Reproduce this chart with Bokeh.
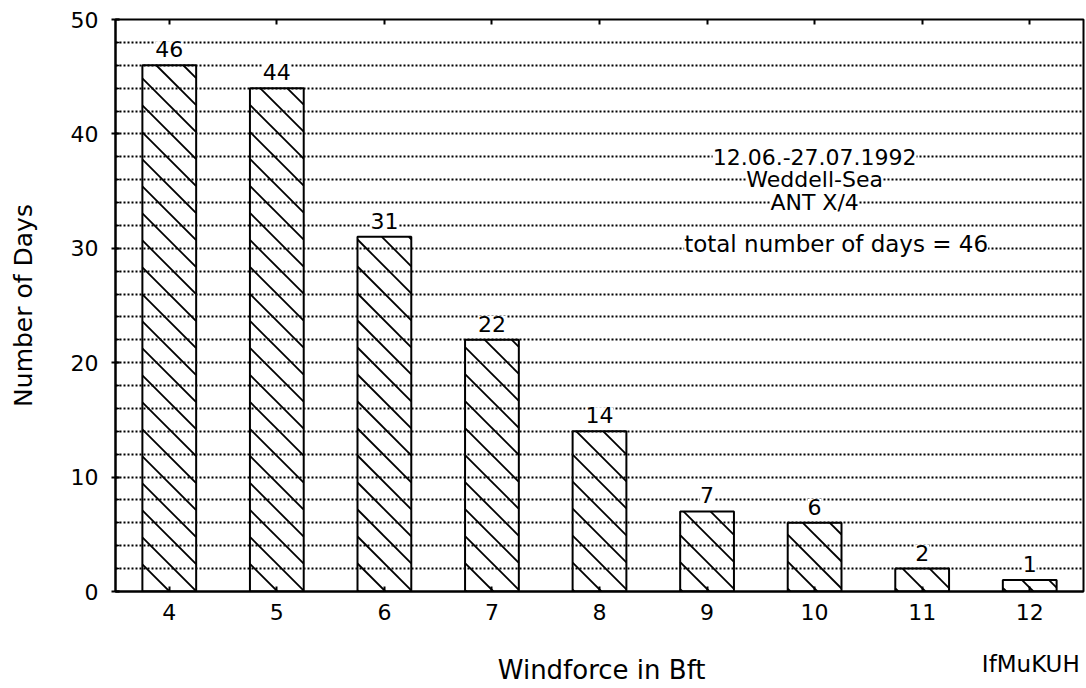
from bokeh.plotting import figure
from bokeh.models import (ColumnDataSource, LabelSet, Label, SingleIntervalTicker,
                          FixedTicker, Range1d, LinearAxis)
from bokeh.core.properties import value
from bokeh.embed import file_html
from bokeh.resources import INLINE

# ---- data ----
windforce = [4, 5, 6, 7, 8, 9, 10, 11, 12]
days = [46, 44, 31, 22, 14, 7, 6, 2, 1]
info_lines = ["12.06.-27.07.1992", "Weddell-Sea", "ANT X/4"]
total_text = "total number of days = 46"
x_title = "Windforce in Bft"
y_title = "Number of Days"
credit = "IfMuKUH"

FONT = "DejaVu Sans"

# ---- layout ----
W, H = 1086, 688
B_LEFT, B_RIGHT, B_TOP, B_BOTTOM = 115, 3, 19, 97
X_RANGE = (3.5, 12.5)
Y_RANGE = (0, 50)
BAR_W = 0.5
HATCH_GAP = 27  # vertical pixel distance between hatch lines

kx = (W - B_LEFT - B_RIGHT) / (X_RANGE[1] - X_RANGE[0])  # px per x unit
ky = (H - B_TOP - B_BOTTOM) / (Y_RANGE[1] - Y_RANGE[0])  # px per y unit


def hatch_segments(xs, tops):
    """45-degree '\\' hatch lines clipped to each bar, computed from the bar data."""
    x0, y0, x1, y1 = [], [], [], []
    for x, t in zip(xs, tops):
        uL = (x - BAR_W / 2 - X_RANGE[0]) * kx
        uR = (x + BAR_W / 2 - X_RANGE[0]) * kx
        vT = t * ky
        n = int(uL // HATCH_GAP)
        while True:
            c = n * HATCH_GAP          # line: v = c - u
            n += 1
            if c <= uL:
                continue
            if c >= uR + vT:
                break
            ua = max(uL, c - vT)
            ub = min(uR, c)
            if ub - ua < 0.5:
                continue
            x0.append(ua / kx + X_RANGE[0]); y0.append((c - ua) / ky)
            x1.append(ub / kx + X_RANGE[0]); y1.append((c - ub) / ky)
    return dict(x0=x0, y0=y0, x1=x1, y1=y1)


src = ColumnDataSource(dict(
    x=windforce,
    top=days,
    label_y=[d + 1.4 for d in days],
    text=[str(d) for d in days],
))
hatch_src = ColumnDataSource(hatch_segments(windforce, days))

p = figure(width=W, height=H, x_range=Range1d(*X_RANGE), y_range=Range1d(*Y_RANGE),
           output_backend="svg", toolbar_location=None,
           min_border_left=B_LEFT, min_border_right=B_RIGHT,
           min_border_top=B_TOP, min_border_bottom=B_BOTTOM)
p.background_fill_color = "white"
p.border_fill_color = "white"
p.outline_line_color = "black"
p.outline_line_width = 2

# grid: dotted lines every 2 days
p.xgrid.visible = False
p.ygrid.ticker = SingleIntervalTicker(interval=2)
p.ygrid.grid_line_color = "black"
p.ygrid.grid_line_dash = "2 2"
p.ygrid.grid_line_width = 1.8

# bars + hatching
p.segment(x0="x0", y0="y0", x1="x1", y1="y1", source=hatch_src,
          line_color="black", line_width=1.8)
p.vbar(x="x", top="top", width=BAR_W, source=src, fill_color=None,
       line_color="black", line_width=2)

# axes
p.yaxis.ticker = SingleIntervalTicker(interval=10, num_minor_ticks=5)
p.xaxis.ticker = FixedTicker(ticks=windforce)
for ax in (p.xaxis[0], p.yaxis[0]):
    ax.axis_line_color = "black"
    ax.axis_line_width = 2
    ax.major_tick_line_color = "black"
    ax.major_tick_line_width = 2
    ax.minor_tick_line_color = "black"
    ax.minor_tick_line_width = 1.5
    ax.major_label_text_font = FONT
    ax.major_label_text_font_size = "22px"
    ax.major_label_text_color = "black"
    ax.axis_label_text_font = FONT
    ax.axis_label_text_font_style = "normal"
    ax.axis_label_text_color = "black"
p.yaxis.major_tick_in = 4
p.yaxis.major_tick_out = 4
p.yaxis.minor_tick_in = 4
p.yaxis.minor_tick_out = 0
p.yaxis.major_label_standoff = 13
p.yaxis.axis_label = y_title
p.yaxis.axis_label_text_font_size = "25px"
p.yaxis.axis_label_standoff = 30

p.xaxis.major_tick_in = 5
p.xaxis.major_tick_out = 0
p.xaxis.minor_tick_in = 0
p.xaxis.minor_tick_out = 0
p.xaxis.major_label_standoff = 12

# top frame edge: small inward ticks only
top_axis = LinearAxis(ticker=FixedTicker(ticks=windforce), axis_line_color=None,
                      major_tick_in=5, major_tick_out=0, minor_tick_in=0, minor_tick_out=0,
                      major_tick_line_color="black", major_tick_line_width=2,
                      major_label_standoff=0, major_label_text_font_size="0px",
                      major_label_text_color=None)
p.add_layout(top_axis, "above")

# value labels above bars
p.add_layout(LabelSet(x="x", y="label_y", text="text", source=src,
                      text_align="center", text_baseline="middle",
                      text_font=value(FONT), text_font_size=value("22px"), text_color="black",
                      background_fill_color="white"))

# info block
for txt, yv in zip(info_lines, [38, 36, 34]):
    p.add_layout(Label(x=10.0, y=yv, text=txt, text_align="center", text_baseline="middle",
                       text_font=FONT, text_font_size="22px", text_color="black",
                       background_fill_color="white"))
p.add_layout(Label(x=10.2, y=30.4, text=total_text, text_align="center", text_baseline="middle",
                   text_font=FONT, text_font_size="23px", text_color="black",
                   background_fill_color="white"))

# x title and credit, below the frame (side panel so they are not clipped to the frame)
p.add_layout(Label(x=8.02, y=-6.9, text=x_title, text_align="center", text_baseline="alphabetic",
                   text_font=FONT, text_font_size="26px", text_color="black"), "below")
p.add_layout(Label(x=12.01, y=-6.35, text=credit, text_align="center", text_baseline="alphabetic",
                   text_font=FONT, text_font_size="23px", text_color="black"), "below")

open("out.html", "w").write(file_html(p, INLINE))
